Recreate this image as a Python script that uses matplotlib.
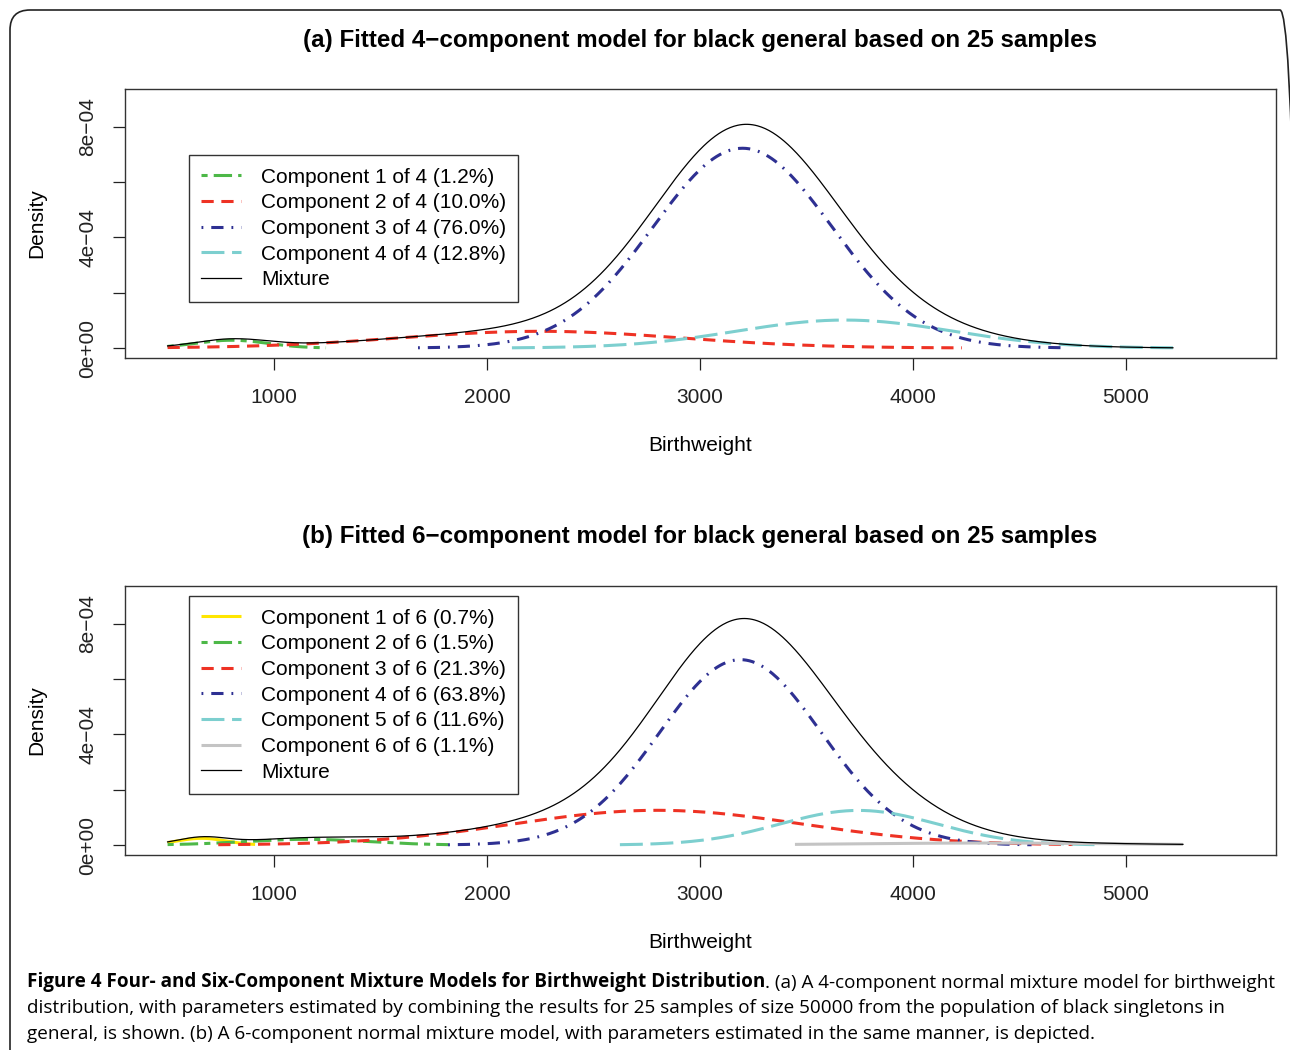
import numpy as np
import matplotlib.pyplot as plt
from matplotlib.patches import FancyBboxPatch

plt.rcParams['font.family'] = ['Liberation Sans', 'DejaVu Sans']

# (a) 4-component fit: weight in %, mean, sd, and the x range each curve is drawn over
a_pct = [1.2, 10.0, 76.0, 12.8]
a_mean = [800, 2250, 3200, 3680]
a_sd = [170, 660, 420, 505]
a_from = [500, 500, 1676, 2117]
a_to = [1244, 4230, 4717, 5221]

# (b) 6-component fit
b_pct = [0.7, 1.5, 21.3, 63.8, 11.6, 1.1]
b_mean = [660, 1150, 2800, 3190, 3745, 4350]
b_sd = [115, 290, 677, 380, 370, 600]
b_from = [500, 500, 738, 1817, 2624, 3446]
b_to = [911, 1817, 4751, 4557, 4854, 5268]

xticks = [1000, 2000, 3000, 4000, 5000]
yticks = [0, 2e-4, 4e-4, 6e-4, 8e-4]
ytick_labels = ['0e+00', '', '4e\u221204', '', '8e\u221204']

titles = ['(a) Fitted 4\u2212component model for black general based on 25 samples',
          '(b) Fitted 6\u2212component model for black general based on 25 samples']

green, red, blue, cyan = '#4DB848', '#EE3224', '#2E3092', '#7DCFCF'
yellow, grey = '#FFE600', '#C4C4C4'
dash = {'solid': None, 'twodash': (2, 2, 6, 2), 'dashed': (4, 2.5),
        'dotdash': (0.6, 2.6, 4, 2.6), 'longdash': (7.5, 2.5)}
a_style = [(green, 'twodash'), (red, 'dashed'), (blue, 'dotdash'), (cyan, 'longdash')]
b_style = [(yellow, 'solid'), (green, 'twodash'), (red, 'dashed'), (blue, 'dotdash'),
           (cyan, 'longdash'), (grey, 'solid')]

FS = 15


def dnorm(x, m, s):
    return np.exp(-0.5 * ((x - m) / s) ** 2) / (s * np.sqrt(2 * np.pi))


def panel(ax, pct, mean, sd, lo, hi, style, leg_top):
    k = len(pct)
    for i in range(k):
        x = np.linspace(lo[i], hi[i], 400)
        y = pct[i] / 100 * dnorm(x, mean[i], sd[i])
        col, ls = style[i]
        lab = 'Component %d of %d (%.1f%%)' % (i + 1, k, pct[i])
        if dash[ls] is None:
            ax.plot(x, y, color=col, lw=2.2, label=lab, solid_capstyle='butt')
        else:
            ax.plot(x, y, color=col, lw=2.2, dashes=dash[ls], label=lab)
    xm = np.linspace(min(lo), max(hi), 800)
    ym = sum(p / 100 * dnorm(xm, m, s) for p, m, s in zip(pct, mean, sd))
    ax.plot(xm, ym, color='black', lw=0.9, label='Mixture')

    ax.set_xlim(300, 5705)
    ax.set_ylim(-3.6e-5, 9.36e-4)
    ax.set_xticks(xticks)
    ax.set_xticklabels([str(t) for t in xticks], fontsize=FS)
    ax.set_yticks(yticks)
    ax.set_yticklabels(ytick_labels, fontsize=FS, rotation=90, va='center')
    ax.tick_params(axis='x', length=8.9, width=0.9, pad=12.5, colors='#222222')
    ax.tick_params(axis='y', length=8.9, width=0.9, pad=11, colors='#222222')
    for sp in ax.spines.values():
        sp.set_linewidth(1.0)
        sp.set_color('#333333')
    ax.set_xlabel('Birthweight', fontsize=FS)
    ax.xaxis.set_label_coords(0.5, -0.29)
    ax.set_ylabel('Density', fontsize=FS)
    ax.yaxis.set_label_coords(-0.0686, 0.5)

    leg = ax.legend(loc='upper left', bbox_to_anchor=(0.0556, leg_top), fontsize=FS,
                    frameon=True, fancybox=False, framealpha=1, edgecolor='#333333',
                    borderaxespad=0, borderpad=0.6, handlelength=1.9, handletextpad=0.95,
                    labelspacing=0.32)
    leg.get_frame().set_linewidth(1.0)


fig = plt.figure(figsize=(12.9, 10.5), dpi=100)
ax1 = fig.add_axes([125 / 1290, 1 - 358 / 1050, 1151 / 1290, 269 / 1050])
ax2 = fig.add_axes([125 / 1290, 1 - 855 / 1050, 1151 / 1290, 269 / 1050])
panel(ax1, a_pct, a_mean, a_sd, a_from, a_to, a_style, 0.7546)
panel(ax2, b_pct, b_mean, b_sd, b_from, b_to, b_style, 0.9628)

fig.text(700 / 1290, 1 - 40 / 1050, titles[0], fontsize=17.4, fontweight='bold',
         ha='center', va='center')
fig.text(700 / 1290, 1 - 537 / 1050, titles[1], fontsize=17.4, fontweight='bold',
         ha='center', va='center')

# outer rounded frame of the figure page (right side runs just off the image)
frame = FancyBboxPatch((0.10, -0.3), 12.90, 10.7, boxstyle='round,pad=0,rounding_size=0.2',
                       transform=fig.dpi_scale_trans, fill=False, edgecolor='#222222', lw=1.2)
fig.add_artist(frame)

# caption
cap_font = ['Open Sans', 'DejaVu Sans']
CFS = 13.6
bold = fig.text(27 / 1290, 1 - 987 / 1050,
                'Figure 4 Four- and Six-Component Mixture Models for Birthweight Distribution',
                fontsize=CFS, fontweight='bold', family=cap_font, va='baseline', ha='left')
plt.annotate('. (a) A 4-component normal mixture model for birthweight',
             xy=(1, 0), xycoords=bold, va='bottom', ha='left', fontsize=CFS,
             family=cap_font, annotation_clip=False)
fig.text(27 / 1290, 1 - 1013 / 1050,
         'distribution, with parameters estimated by combining the results for 25 samples of size 50000 '
         'from the population of black singletons in',
         fontsize=CFS, family=cap_font, va='baseline', ha='left')
fig.text(27 / 1290, 1 - 1039 / 1050,
         'general, is shown. (b) A 6-component normal mixture model, with parameters estimated in the '
         'same manner, is depicted.',
         fontsize=CFS, family=cap_font, va='baseline', ha='left')

plt.savefig('out.png', dpi=100)
